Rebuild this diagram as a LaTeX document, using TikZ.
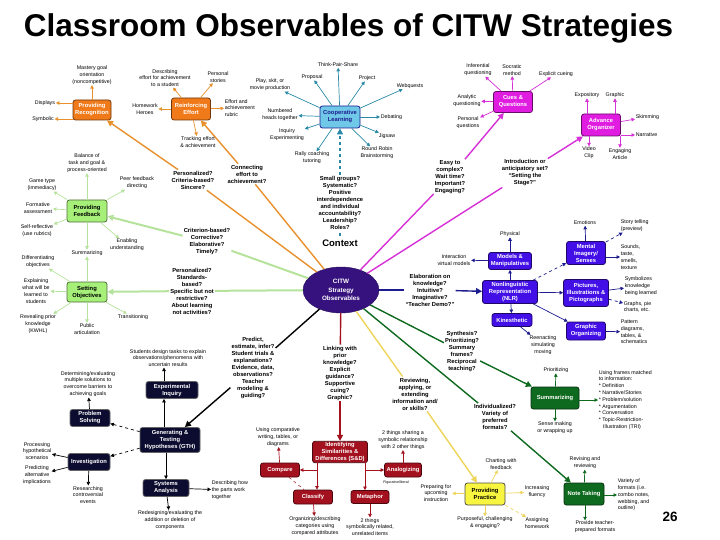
\documentclass[tikz,border=0pt]{standalone}
\usepackage{fontspec}
\setmainfont{Liberation Sans}
\usetikzlibrary{arrows.meta,shapes.geometric}
\definecolor{orF}{HTML}{F07A1A}\definecolor{orL}{HTML}{E8902C}
\definecolor{grF}{HTML}{A6F07A}\definecolor{grL}{HTML}{B6E39C}
\definecolor{tlF}{HTML}{70C8E8}\definecolor{tlL}{HTML}{2A8AA6}
\definecolor{mgF}{HTML}{E01CE0}\definecolor{mgL}{HTML}{D630D6}
\definecolor{blF}{HTML}{4210E6}\definecolor{blL}{HTML}{1C1C8E}
\definecolor{dgF}{HTML}{0E6A1E}
\definecolor{ywF}{HTML}{F8F540}\definecolor{ywL}{HTML}{EED45A}
\definecolor{rdF}{HTML}{A3101E}
\definecolor{bkF}{HTML}{0C0C30}
\definecolor{cF}{HTML}{36127E}
\begin{document}
\begin{tikzpicture}[x=1pt,y=-1pt,
  sat/.style={font=\fontsize{5.3}{6.8}\selectfont, align=center, inner sep=0.6pt},
  satl/.style={sat, align=left},
  cq/.style={font=\fontsize{5.8}{7}\selectfont\bfseries, align=center, inner sep=1pt},
  bx/.style={draw=#1!45!black, fill=#1, rounded corners=2.5pt, line width=0.8pt,
     font=\fontsize{5.8}{7}\selectfont\bfseries, text=white, align=center, inner sep=1pt},
  ar/.style={draw=#1, line width=0.7pt, -{Triangle[length=3.5pt,width=3.5pt]}},
  br/.style={draw=#1, line width=1.4pt},
  brar/.style={draw=#1, line width=1.4pt, -{Triangle[length=6pt,width=6pt]}}]
\useasboundingbox (0,0) rectangle (720,540);

% title
\node[font=\fontsize{31.5}{34}\selectfont\bfseries, anchor=base] (title) at (348.5,37) {Classroom Observables of CITW Strategies};
\node[font=\fontsize{13.5}{14}\selectfont\bfseries] (pg) at (670,517) {26};

% center
\node[ellipse, fill=cF, draw=cF!70!black, minimum width=76, minimum height=46, inner sep=0pt,
  text=white, font=\fontsize{6.3}{8.5}\selectfont\bfseries, align=center] (c) at (341,290) {CITW\\Strategy\\Observables};
\node[font=\fontsize{9.5}{10}\selectfont\bfseries] (ctx) at (340,243) {Context};

% ===== orange =====
\node[bx=orF, minimum width=38, minimum height=20] (rec) at (92,110) {Providing\\Recognition};
\node[bx=orF, minimum width=39, minimum height=22] (reff) at (191,109) {Reinforcing\\Effort};
\node[cq] (pers) at (193,180) {Personalized?\\Criteria-based?\\Sincere?};
\node[cq] (conn) at (247,174) {Connecting\\effort to\\achievement?};
\draw[br=orL] (c) -- (pers);
\draw[brar=orL] (pers) -- (rec);
\draw[br=orL] (c) -- (conn);
\draw[brar=orL] (conn) -- (reff);
\node[sat] (r1) at (92,75) {Mastery goal\\orientation\\(noncompetitive)};
\node[sat] (r2) at (45,103) {Displays};
\node[sat] (r3) at (43,119) {Symbolic};
\draw[ar=orL] (rec) -- (r1);
\draw[ar=orL] (rec.west |- r2) -- (r2);
\draw[ar=orL] (rec.west |- r3) -- (r3);
\node[sat] (e1) at (165,78) {Describing\\effort for achievement\\to a student};
\node[sat] (e2) at (218,77) {Personal\\stories};
\node[sat] (e3) at (145,109) {Homework\\Heroes};
\node[satl, anchor=west] (e4) at (224,108) {Effort and\\achievement\\rubric};
\node[sat] (e5) at (198,142) {Tracking effort\\\& achievement};
\draw[ar=orL] (reff) -- (e1);
\draw[ar=orL] (reff) -- (e2);
\draw[ar=orL] (reff) -- (e3);
\draw[ar=orL] (reff) -- (e4);
\draw[ar=orL] (reff) -- (e5);

% ===== light green =====
\node[bx=grF, text=black, minimum width=40, minimum height=22] (fb) at (87,211) {Providing\\Feedback};
\node[bx=grF, text=black, minimum width=40, minimum height=20] (so) at (87,292) {Setting\\Objectives};
\node[cq] (crit) at (207,242) {Criterion-based?\\Corrective?\\Elaborative?\\Timely?};
\node[cq] (pers2) at (192,291) {Personalized?\\Standards-\\based?\\Specific but not\\restrictive?\\About learning\\not activities?};
\draw[br=grL, line width=2pt] (c) -- (crit);
\draw[brar=grL, line width=2pt] (crit) -- (fb);
\draw[br=grL, line width=2pt] (c) -- (pers2);
\draw[brar=grL, line width=2pt] (pers2) -- (so);
\node[sat] (f1) at (87,163) {Balance of\\task and goal \&\\process-oriented};
\node[sat] (f2) at (42,185) {Game type\\(immediacy)};
\node[sat] (f3) at (137,183) {Peer feedback\\directing};
\node[sat] (f4) at (38,208) {Formative\\assessment};
\node[sat] (f5) at (37,231) {Self-reflective\\(use rubrics)};
\node[sat] (f6) at (127,245) {Enabling\\understanding};
\node[sat] (f7) at (87,253) {Summarizing};
\foreach \t in {f1,f2,f3,f4,f5,f6,f7} \draw[ar=grL] (fb) -- (\t);
\node[sat] (o1) at (38,262) {Differentiating\\objectives};
\node[sat] (o2) at (36,291) {Explaining\\what will be\\learned to\\students};
\node[sat] (o3) at (38,324) {Revealing prior\\knowledge\\(KWHL)};
\node[sat] (o4) at (87,329) {Public\\articulation};
\node[sat] (o5) at (133,317) {Transitioning};
\foreach \t in {o1,o2,o3,o4,o5,f7} \draw[ar=grL] (so) -- (\t);

% ===== teal =====
\node[bx=tlF, text=blL, draw=blL, minimum width=40, minimum height=22] (coop) at (340,117) {Cooperative\\Learning};
\node[cq] (small) at (340,203) {Small groups?\\Systematic?\\Positive\\interdependence\\and individual\\accountability?\\Leadership?\\Roles?};
\draw[br=tlL, dashed, line width=1.2pt] (ctx) -- (small);
\draw[brar=tlL, dashed, line width=1.2pt] (small) -- (coop);
\node[sat] (t1) at (338,65) {Think-Pair-Share};
\node[sat] (t2) at (312,77) {Proposal};
\node[sat] (t3) at (367,78) {Project};
\node[sat] (t4) at (270,85) {Play, skit, or\\movie production};
\node[sat] (t5) at (410,86) {Webquests};
\node[sat] (t6) at (280,115) {Numbered\\heads together};
\node[sat, anchor=west] (t7) at (380,117) {Debating};
\node[sat] (t8) at (287,135) {Inquiry\\Experimenting};
\node[sat] (t9) at (387,136) {Jigsaw};
\node[sat] (t10) at (312,158) {Rally coaching\\tutoring};
\node[sat] (t11) at (377,153) {Round Robin\\Brainstorming};
\foreach \t in {t1,t2,t3,t4,t5,t6,t7,t8,t9,t10,t11} \draw[ar=tlL] (coop) -- (\t);

% ===== magenta =====
\node[bx=mgF, minimum width=39, minimum height=21] (cues) at (513,102) {Cues \&\\Questions};
\node[bx=mgF, minimum width=39, minimum height=22] (adv) at (601,125) {Advance\\Organizer};
\node[cq] (easy) at (450,177) {Easy to\\complex?\\Wait time?\\Important?\\Engaging?};
\node[cq] (intro) at (525,173) {Introduction or\\anticipatory set?\\``Setting the\\Stage?''};
\draw[br=mgL] (c) -- (easy);
\draw[brar=mgL] (easy) -- (cues);
\draw[br=mgL] (c) -- (intro);
\draw[brar=mgL] (intro) -- (adv);
\node[sat] (q1) at (478,70) {Inferential\\questioning};
\node[sat] (q2) at (512,70) {Socratic\\method};
\node[sat] (q3) at (556,74) {Explicit cueing};
\node[sat] (q4) at (467,101) {Analytic\\questioning};
\node[sat] (q5) at (468,123) {Personal\\questions};
\foreach \t in {q1,q2,q3,q4,q5} \draw[ar=mgL] (cues) -- (\t);
\node[sat] (a1) at (587,95) {Expository};
\node[sat] (a2) at (615,95) {Graphic};
\node[sat, anchor=west] (a3) at (635,117) {Skimming};
\node[sat, anchor=west] (a4) at (635,135) {Narrative};
\node[sat] (a5) at (589,153) {Video\\Clip};
\node[sat] (a6) at (620,154) {Engaging\\Article};
\draw[ar=mgL] (adv.north -| a1) -- (a1);
\draw[ar=mgL] (adv.north -| a2) -- (a2);
\draw[ar=mgL] (adv) -- (a3);
\draw[ar=mgL] (adv.east |- a4) -- (a4);
\draw[ar=mgL] (adv.south -| a5) -- (a5);
\draw[ar=mgL] (adv.south -| a6) -- (a6);

% ===== blue =====
\node[bx=blF, minimum width=55, minimum height=23] (nlr) at (510,292) {Nonlinguistic\\Representation\\(NLR)};
\node[bx=blF, minimum width=43, minimum height=17] (mod) at (510,261) {Models \&\\Manipulatives};
\node[bx=blF, minimum width=40, minimum height=13] (kin) at (512,320) {Kinesthetic};
\node[bx=blF, minimum width=39, minimum height=23] (ment) at (586,253) {Mental\\Imagery/\\Senses};
\node[bx=blF, minimum width=45, minimum height=27] (pic) at (586,293) {Pictures,\\Illustrations \&\\Pictographs};
\node[bx=blF, minimum width=39, minimum height=18] (go) at (586,331) {Graphic\\Organizing};
\node[cq] (elab) at (430,290) {Elaboration on\\knowledge?\\Intuitive?\\Imaginative?\\``Teacher Demo?''};
\draw[br=blL] (c) -- (elab);
\draw[brar=blL] (elab) -- (nlr);
\draw[ar=blL] (nlr) -- (mod);
\draw[ar=blL] (nlr) -- (kin);
\draw[ar=blL, dashed] (nlr) -- (ment);
\draw[ar=blL] (nlr) -- (pic);
\draw[ar=blL] (nlr) -- (go);
\node[sat] (b1) at (510,234) {Physical};
\node[sat] (b2) at (454,260) {Interaction\\virtual models};
\node[sat] (b3) at (543,345) {Reenacting\\simulating\\moving};
\draw[ar=blL] (mod) -- (b1);
\draw[ar=blL] (mod) -- (b2);
\draw[ar=blL] (kin) -- (b3);
\node[sat] (m1) at (585,223) {Emotions};
\node[satl, anchor=west] (m2) at (620,226) {Story telling\\(preview)};
\node[satl, anchor=west] (m3) at (620,257) {Sounds,\\taste,\\smells,\\texture};
\draw[ar=blL] (ment) -- (m1);
\draw[ar=blL, dashed] (ment) -- (m2);
\draw[ar=blL] (ment.east |- m3.west) -- (m3);
\node[satl, anchor=west] (p1) at (624,286) {Symbolizes\\knowledge\\being learned};
\node[satl, anchor=west] (p2) at (623,307) {Graphs, pie\\charts, etc.};
\node[satl, anchor=west] (g1) at (620,332) {Pattern\\diagrams,\\tables, \&\\schematics};
\draw[ar=blL] (pic) -- (p1);
\draw[ar=blL, dashed] (pic) -- (p2);
\draw[ar=blL] (go) -- (g1);

% ===== dark green =====
\node[bx=dgF, minimum width=48, minimum height=22] (sum) at (555,398) {Summarizing};
\node[bx=dgF, minimum width=40, minimum height=22] (note) at (584,494) {Note Taking};
\node[cq] (syn) at (462,352) {Synthesis?\\Prioritizing?\\Summary\\frames?\\Reciprocal\\teaching?};
\node[cq] (ind) at (495,417) {Individualized?\\Variety of\\preferred\\formats?};
\draw[br=dgF] (c) -- (syn);
\draw[brar=dgF] (syn) -- (sum);
\draw[br=dgF] (c) -- (ind);
\draw[brar=dgF] (ind) -- (note);
\node[sat] (s1) at (556,370) {Prioritizing};
\node[satl, anchor=west] (s2) at (598,400) {Using frames matched\\to information:\\* Definition\\* Narrative/Stories\\* Problem/solution\\* Argumentation\\* Conversation\\* Topic-Restriction-\\\ \ \ Illustration (TRI)};
\node[sat] (s3) at (555,428) {Sense making\\or wrapping up};
\draw[ar=dgF] (sum) -- (s1);
\draw[ar=dgF] (sum.east |- s2.west) -- (s2);
\draw[ar=dgF] (sum) -- (s3);
\node[sat] (n1) at (585,463) {Revising and\\reviewing};
\node[satl, anchor=west] (n2) at (617,495) {Variety of\\formats (i.e.\\combo notes,\\webbing, and\\outline)};
\node[sat] (n3) at (595,527) {Provide teacher-\\prepared formats};
\draw[ar=dgF] (note) -- (n1);
\draw[ar=dgF] (note.east |- n2.west) -- (n2);
\draw[ar=dgF] (note.south -| 585,0) -- (n3.north -| 585,0);

% ===== yellow =====
\node[bx=ywF, draw=black!70, text=black, minimum width=40, minimum height=22] (pp) at (485,494) {Providing\\Practice};
\node[cq] (rev) at (415,394) {Reviewing,\\applying, or\\extending\\information and/\\or skills?};
\draw[br=ywL] (c) -- (rev);
\draw[brar=ywL] (rev) -- (pp);
\node[sat] (y1) at (501,464) {Charting with\\feedback};
\node[sat] (y2) at (436,493) {Preparing for\\upcoming\\instruction};
\node[sat] (y3) at (537,492) {Increasing\\fluency};
\node[sat] (y4) at (485,523) {Purposeful, challenging\\\& engaging?};
\node[sat] (y5) at (537,523) {Assigning\\homework};
\draw[ar=ywL] (pp) -- (y1);
\draw[ar=ywL] (pp) -- (y2);
\draw[ar=ywL] (pp) -- (y3);
\draw[ar=ywL] (pp) -- (y4);
\draw[ar=ywL, dashed] (pp) -- (y5);

% ===== dark red =====
\node[cq] (link) at (340,373) {Linking with\\prior\\knowledge?\\Explicit\\guidance?\\Supportive\\cuing?\\Graphic?};
\node[bx=rdF, minimum width=55, minimum height=20] (sd) at (340,452) {Identifying\\Similarities \&\\Differences (S\&D)};
\node[bx=rdF, minimum width=39, minimum height=14] (cmp) at (280,470) {Compare};
\node[bx=rdF, minimum width=39, minimum height=14] (cls) at (313,497) {Classify};
\node[bx=rdF, minimum width=37, minimum height=14] (ana) at (403,470) {Analogizing};
\node[bx=rdF, minimum width=38, minimum height=13] (met) at (370,497) {Metaphor};
\draw[br=rdF] (c) -- (link);
\draw[brar=rdF] (link) -- (sd);
\coordinate (jl) at (317,462);
\coordinate (jr) at (365,462);
\draw[ar=rdF] (jl) -- (jl |- cls.north);
\draw[ar=rdF] (jr) -- (jr |- met.north);
\draw[ar=rdF] (jl |- cmp.east) -- (cmp.east);
\draw[ar=rdF] (jr |- ana.west) -- (ana.west);
\draw[rdF, dashed, line width=0.5pt] (cmp) -- (cls);
\node[sat] (c1) at (278,437) {Using comparative\\writing, tables, or\\diagrams};
\node[sat] (c2) at (315,526) {Organizing/describing\\categories using\\compared attributes};
\node[sat] (c3) at (403,440) {2 things sharing a\\symbolic relationship\\with 2 other things};
\node[sat] (c4) at (370,527) {2 things\\symbolically related,\\unrelated items};
\node[font=\fontsize{3.6}{4}\selectfont, inner sep=0pt] (fig) at (396,483) {Figurative/literal};
\draw[ar=rdF] (cmp) -- (c1);
\draw[ar=rdF] (cls) -- (c2);
\draw[ar=rdF] (ana) -- (c3);
\draw[ar=rdF] (met) -- (c4);

% ===== black =====
\node[cq] (pred) at (253,368) {Predict,\\estimate, infer?\\Student trials \&\\explanations?\\Evidence, data,\\observations?\\Teacher\\modeling \&\\guiding?};
\node[bx=bkF, draw=black!60, minimum width=60, minimum height=25] (gth) at (170,440) {Generating \&\\Testing\\Hypotheses (GTH)};
\node[bx=bkF, draw=black!60, minimum width=52, minimum height=17] (exp) at (172,390) {Experimental\\Inquiry};
\node[bx=bkF, draw=black!60, minimum width=40, minimum height=17] (ps) at (90,418) {Problem\\Solving};
\node[bx=bkF, draw=black!60, minimum width=42, minimum height=17] (inv) at (89,462) {Investigation};
\node[bx=bkF, draw=black!60, minimum width=46, minimum height=17] (sys) at (166,488) {Systems\\Analysis};
\draw[br=black] (c) -- (pred);
\draw[brar=black] (pred) -- (gth);
\draw[ar=black] (gth.north -| 164,0) -- (exp.south -| 164,0);
\draw[ar=black, dashed] (gth) -- (ps);
\draw[ar=black, dashed] (gth) -- (inv);
\draw[ar=black] (gth.south -| 166,0) -- (sys);
\node[sat] (k1) at (168,358) {Students design tasks to explain\\observations/phenomena with\\uncertain results};
\node[sat] (k2) at (88,384) {Determining/evaluating\\multiple solutions to\\overcome barriers to\\achieving goals};
\node[sat] (k3) at (37,451) {Processing\\hypothetical\\scenarios};
\node[sat] (k4) at (37,475) {Predicting\\alternative\\implications};
\node[sat] (k5) at (88,495) {Researching\\controversial\\events};
\node[satl, anchor=west] (k6) at (211,490) {Describing how\\the parts work\\together};
\node[sat] (k7) at (170,520) {Redesigning/evaluating the\\addition or deletion of\\components};
\draw[ar=black] (exp.north -| 164,0) -- (k1.south -| 164,0);
\draw[ar=black] (ps) -- (k2);
\draw[ar=black] (inv) -- (k3);
\draw[ar=black] (inv) -- (k4);
\draw[ar=black] (inv) -- (k5);
\draw[ar=black] (sys) -- (k6);
\draw[ar=black] (sys) -- (k7);
\end{tikzpicture}
\end{document}
